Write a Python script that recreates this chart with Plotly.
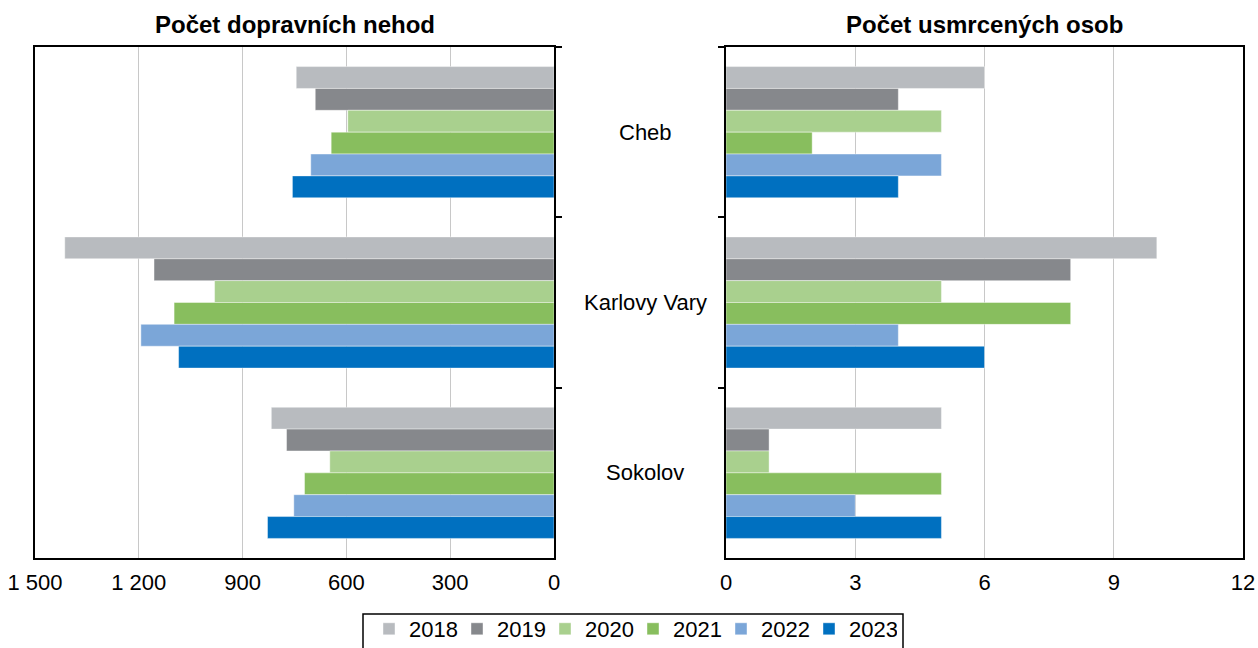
import plotly.graph_objects as go

# Districts of the Karlovy Vary region
districts = ["Cheb", "Karlovy Vary", "Sokolov"]
years = ["2018", "2019", "2020", "2021", "2022", "2023"]

# Number of road accidents per district and year
accidents = {
    "2018": [745, 1414, 817],
    "2019": [690, 1156, 773],
    "2020": [596, 981, 648],
    "2021": [644, 1098, 721],
    "2022": [703, 1194, 752],
    "2023": [756, 1085, 828],
}

# Number of people killed per district and year
fatalities = {
    "2018": [6, 10, 5],
    "2019": [4, 8, 1],
    "2020": [5, 5, 1],
    "2021": [2, 8, 5],
    "2022": [5, 4, 3],
    "2023": [4, 6, 5],
}

colors = {
    "2018": "#B8BBBF",
    "2019": "#86888C",
    "2020": "#A9D08E",
    "2021": "#88BE5E",
    "2022": "#7BA6D8",
    "2023": "#0070C0",
}

acc_ticks = [1500, 1200, 900, 600, 300, 0]
acc_ticklabels = ["1 500", "1 200", "900", "600", "300", "0"]
fat_ticks = [0, 3, 6, 9, 12]

FONT = "Liberation Sans, Arial, sans-serif"
W, H = 1258, 648

fig = go.Figure()

for yr in years:
    fig.add_trace(go.Bar(
        y=districts, x=accidents[yr], orientation="h", name=yr,
        marker=dict(color=colors[yr], line=dict(color="rgba(255,255,255,0.7)", width=0.6)),
        xaxis="x", yaxis="y", legendgroup=yr, showlegend=True,
        hoverinfo="x+y+name",
    ))
for yr in years:
    fig.add_trace(go.Bar(
        y=districts, x=fatalities[yr], orientation="h", name=yr,
        marker=dict(color=colors[yr], line=dict(color="rgba(255,255,255,0.7)", width=0.6)),
        xaxis="x2", yaxis="y2", legendgroup=yr, showlegend=False,
        hoverinfo="x+y+name",
    ))

y_top = 1 - 47 / H
y_bot = 1 - 558 / H

axis_common = dict(
    showline=True, linecolor="black", linewidth=2, mirror=True,
    tickfont=dict(family=FONT, size=22, color="black"),
    zeroline=False, fixedrange=True, automargin=False,
)

fig.update_layout(
    width=W, height=H,
    margin=dict(l=0, r=0, t=0, b=0, autoexpand=False),
    paper_bgcolor="white", plot_bgcolor="white",
    barmode="group", bargap=0.23, bargroupgap=0,
    font=dict(family=FONT, size=22, color="black"),
    xaxis=dict(
        domain=[35 / W, 554 / W], anchor="y",
        range=[1500, 0], tickvals=acc_ticks, ticktext=acc_ticklabels,
        showgrid=True, gridcolor="#C8C8C8", gridwidth=1.2, ticks="",
        ticklabelstandoff=4,
        **axis_common,
    ),
    yaxis=dict(
        domain=[y_bot, y_top], anchor="x", side="right",
        autorange="reversed", type="category",
        tickson="boundaries", ticks="outside", ticklen=6, tickwidth=2, tickcolor="black",
        showticklabels=False, showgrid=False,
        **axis_common,
    ),
    xaxis2=dict(
        domain=[726 / W, 1243 / W], anchor="y2",
        range=[0, 12], tickvals=fat_ticks,
        showgrid=True, gridcolor="#C8C8C8", gridwidth=1.2, ticks="",
        ticklabelstandoff=4,
        **axis_common,
    ),
    yaxis2=dict(
        domain=[y_bot, y_top], anchor="x2", side="left",
        autorange="reversed", type="category",
        tickson="boundaries", ticks="outside", ticklen=6, tickwidth=2, tickcolor="black",
        showticklabels=False, showgrid=False,
        **axis_common,
    ),
    legend=dict(
        orientation="h", x=633 / W, xanchor="center", y=1 - 608 / H, yanchor="top",
        borderwidth=0, bgcolor="rgba(0,0,0,0)",
        font=dict(family=FONT, size=22, color="black"),
        entrywidth=43, itemclick=False, itemdoubleclick=False,
    ),
    showlegend=True,
)

# Frame around the legend, running past the bottom edge of the page
fig.add_shape(type="rect", xref="paper", yref="paper",
              x0=363 / W, x1=903 / W, y0=1 - 662 / H, y1=1 - 614 / H,
              line=dict(color="black", width=1.5), fillcolor="rgba(0,0,0,0)", layer="below")

# Panel titles
fig.add_annotation(text="<b>Počet dopravních nehod</b>", xref="paper", yref="paper",
                   x=(35 + 554) / 2 / W, y=1 - 25 / H, xanchor="center", yanchor="middle",
                   showarrow=False, font=dict(family=FONT, size=24, color="black"))
fig.add_annotation(text="<b>Počet usmrcených osob</b>", xref="paper", yref="paper",
                   x=(726 + 1243) / 2 / W, y=1 - 25 / H, xanchor="center", yanchor="middle",
                   showarrow=False, font=dict(family=FONT, size=24, color="black"))

# District names shared by both panels, placed between them
for d in districts:
    fig.add_annotation(text=d, xref="paper", yref="y2", x=645 / W, y=d,
                       xanchor="center", yanchor="middle", showarrow=False,
                       font=dict(family=FONT, size=22, color="black"))

fig.write_html("out.html")
